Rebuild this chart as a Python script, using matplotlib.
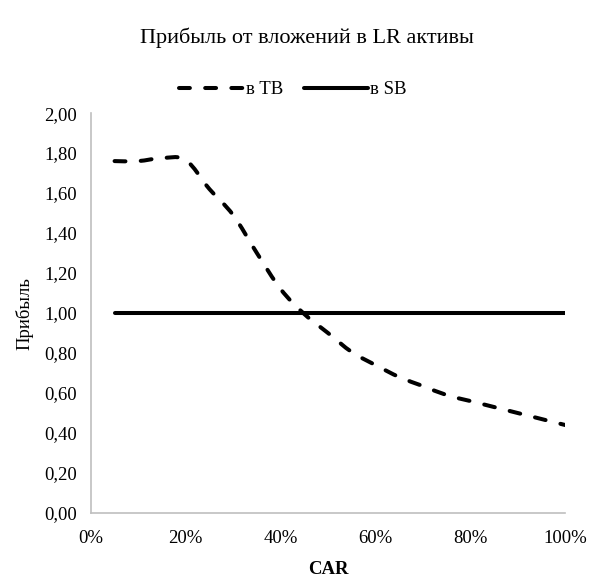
import matplotlib
matplotlib.use("Agg")
import matplotlib.pyplot as plt
from matplotlib.ticker import FuncFormatter
from matplotlib.path import Path
from matplotlib.patches import PathPatch
from matplotlib.lines import Line2D

plt.rcParams['font.family'] = ['Liberation Serif', 'DejaVu Serif']

# Capital adequacy ratio (share)
car = [0.05, 0.10, 0.15, 0.20, 0.25, 0.30, 0.35, 0.40, 0.45, 0.50,
       0.55, 0.60, 0.65, 0.70, 0.75, 0.80, 0.85, 0.90, 0.95, 1.00]
# Profit from LR assets in the traditional bank
profit_tb = [1.76, 1.76, 1.775, 1.765, 1.62, 1.49, 1.30, 1.12, 0.995, 0.90,
             0.805, 0.74, 0.68, 0.635, 0.59, 0.56, 0.53, 0.50, 0.47, 0.44]
# Profit from LR assets in the shadow bank
profit_sb = [1.00] * len(car)

title = "Прибыль от вложений в LR активы"
label_tb = "в TB"
label_sb = "в SB"
x_ticks = [0.0, 0.2, 0.4, 0.6, 0.8, 1.0]
y_ticks = [0.0, 0.2, 0.4, 0.6, 0.8, 1.0, 1.2, 1.4, 1.6, 1.8, 2.0]

LW = 2.9
DASH = (0, (2.7, 3.8))


def smooth_path(xs, ys, tension=1.0 / 6.0):
    """Smoothed line through the points as cubic Bezier segments."""
    n = len(xs)
    verts = [(xs[0], ys[0])]
    codes = [Path.MOVETO]
    for i in range(n - 1):
        x0, y0 = xs[max(i - 1, 0)], ys[max(i - 1, 0)]
        x1, y1 = xs[i], ys[i]
        x2, y2 = xs[i + 1], ys[i + 1]
        x3, y3 = xs[min(i + 2, n - 1)], ys[min(i + 2, n - 1)]
        c1 = (x1 + (x2 - x0) * tension, y1 + (y2 - y0) * tension)
        c2 = (x2 - (x3 - x1) * tension, y2 - (y3 - y1) * tension)
        verts += [c1, c2, (x2, y2)]
        codes += [Path.CURVE4, Path.CURVE4, Path.CURVE4]
    return Path(verts, codes)


fig = plt.figure(figsize=(5.9, 5.8), dpi=100)
ax = fig.add_axes([0.154, 0.1155, 0.804, 0.6895])

ax.add_patch(PathPatch(smooth_path(car, profit_tb), fill=False, edgecolor='black',
                       lw=LW, linestyle=DASH, capstyle='round'))
ax.plot(car, profit_sb, color='black', lw=LW, solid_capstyle='round')

ax.set_xlim(0, 1.0)
ax.set_ylim(0, 2.0)
ax.set_xticks(x_ticks)
ax.set_yticks(y_ticks)
ax.xaxis.set_major_formatter(FuncFormatter(lambda v, p: f"{v*100:.0f}%"))
ax.yaxis.set_major_formatter(FuncFormatter(lambda v, p: f"{v:.2f}".replace('.', ',')))
ax.tick_params(axis='both', length=0, labelsize=13.5, colors='black')
ax.tick_params(axis='x', pad=12)
ax.tick_params(axis='y', pad=10)

for side in ('top', 'right'):
    ax.spines[side].set_visible(False)
for side in ('left', 'bottom'):
    ax.spines[side].set_color('#BFBFBF')
    ax.spines[side].set_linewidth(1.2)

ax.set_xlabel("CAR", fontsize=13.5, fontweight='bold', labelpad=10)
ax.set_ylabel("Прибыль", fontsize=13.5, labelpad=8)

fig.text(0.52, 0.935, title, ha='center', va='center', fontsize=16)

handles = [
    Line2D([], [], color='black', lw=LW, linestyle=DASH, dash_capstyle='round'),
    Line2D([], [], color='black', lw=LW, solid_capstyle='round'),
]
fig.legend(handles, [label_tb, label_sb], loc='center', bbox_to_anchor=(0.497, 0.845),
           ncol=2, frameon=False, fontsize=13.5, handlelength=3.4,
           handletextpad=0.15, columnspacing=1.1)

fig.savefig("out.png", dpi=100)
